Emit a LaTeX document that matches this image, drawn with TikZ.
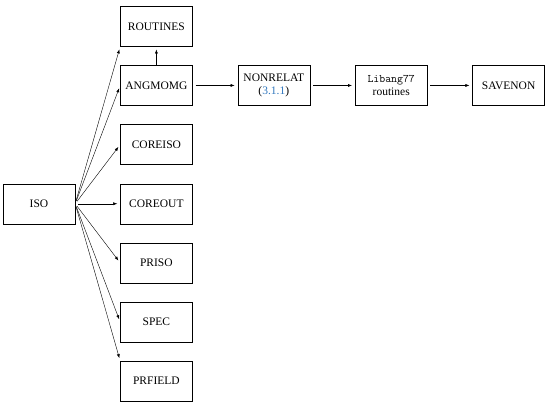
\documentclass[tikz,border=0pt]{standalone}
\usepackage{fontspec}
\setmainfont{Liberation Serif}
\usetikzlibrary{arrows.meta, positioning}
\definecolor{linkblue}{RGB}{50,120,190}
\tikzset{
  box/.style = {draw, rectangle, align=center,
                font=\fontsize{11.5pt}{13pt}\selectfont,
                minimum height=40pt, minimum width=72pt, inner sep=2pt},
  arr/.style = {-{Latex[length=4pt, width=3pt]}, shorten <=3pt, shorten >=3pt},
  node distance = 18.75pt and 45pt
}

\begin{document}
\begin{tikzpicture}

  \useasboundingbox (0,0) rectangle (550pt,-404pt);

  % -- main program --------------------------------------------------------
  \node[box] (iso) at (39pt,-203.75pt) {ISO};

  % -- called routines (column) -------------------------------------------
  \node[box, right=of iso]       (coreout)  {COREOUT};
  \node[box, above=of coreout]   (coreiso)  {COREISO};
  \node[box, above=of coreiso]   (angmomg)  {ANGMOMG};
  \node[box, above=of angmomg]   (routines) {ROUTINES};
  \node[box, below=of coreout]   (priso)    {PRISO};
  \node[box, below=of priso]     (spec)     {SPEC};
  \node[box, below=of spec]      (prfield)  {PRFIELD};

  % -- non-relativistic chain ----------------------------------------------
  \node[box, right=of angmomg]   (nonrelat) {NONRELAT\\({\color{linkblue}3.1.1})};
  \node[box, right=of nonrelat]  (libang)   {\texttt{Libang77}\\routines};
  \node[box, right=of libang]    (savenon)  {SAVENON};

  % -- connections ---------------------------------------------------------
  \draw[arr] (iso.east) -- (routines.south west);
  \foreach \n in {angmomg, coreiso, coreout, priso, spec}
    \draw[arr] (iso.east) -- (\n.west);
  \draw[arr] (iso.east) -- (prfield.north west);

  \draw[arr, shorten <=0pt] (angmomg) -- (routines);
  \draw[arr] (angmomg) -- (nonrelat);
  \draw[arr] (nonrelat) -- (libang);
  \draw[arr] (libang) -- (savenon);

\end{tikzpicture}
\end{document}
